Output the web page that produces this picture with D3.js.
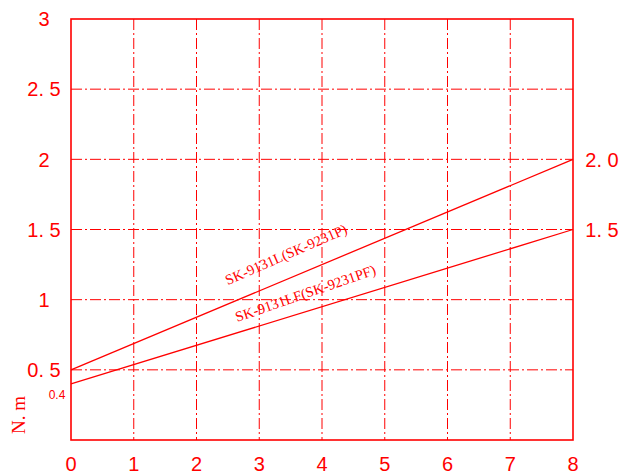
<!DOCTYPE html>
<html><head><meta charset="utf-8">
<script src="https://cdn.jsdelivr.net/npm/d3@7"></script>
<style>body{margin:0;background:#fff}</style>
</head><body>
<svg id="c" width="627" height="475"></svg>
<script>
const xTicks = [0,1,2,3,4,5,6,7,8];
const yTicks = [0.5,1,1.5,2,2.5,3];
const yTickLabels = ["0. 5","1","1. 5","2","2. 5","3"];
const series1 = [{x:0,y:0.5},{x:8,y:2.0}];
const series2 = [{x:0,y:0.4},{x:8,y:1.5}];
const seriesNames = ["SK-9131L(SK-9231P)","SK-9131LF(SK-9231PF)"];
const rightLabels = [{y:2.0,t:"2. 0"},{y:1.5,t:"1. 5"}];

const red = "#ff0000";
const svg = d3.select("#c");
const x = d3.scaleLinear().domain([0,8]).range([71,573]);
const y = d3.scaleLinear().domain([0,3]).range([440,19]);
const tickFont = "'Liberation Sans Narrow','Liberation Sans',Arial,sans-serif";
const serif = "'Liberation Serif','DejaVu Serif',serif";
const dash = "11,3,2,3";

// grid
svg.append("g").selectAll("line").data(xTicks.filter(d=>d>0&&d<8)).join("line")
  .attr("x1",d=>x(d)).attr("x2",d=>x(d)).attr("y1",y(3)).attr("y2",y(0))
  .attr("stroke",red).attr("stroke-width",1).attr("stroke-dasharray",dash);
svg.append("g").selectAll("line").data(yTicks.filter(d=>d<3)).join("line")
  .attr("x1",x(0)).attr("x2",x(8)).attr("y1",d=>y(d)).attr("y2",d=>y(d))
  .attr("stroke",red).attr("stroke-width",1).attr("stroke-dasharray",dash);

// frame
svg.append("rect").attr("x",x(0)).attr("y",y(3)).attr("width",x(8)-x(0)).attr("height",y(0)-y(3))
  .attr("fill","none").attr("stroke",red).attr("stroke-width",1.6);

// lines
const line = d3.line().x(d=>x(d.x)).y(d=>y(d.y));
[series1,series2].forEach(s=>{
  svg.append("path").attr("d",line(s)).attr("fill","none").attr("stroke",red).attr("stroke-width",1.3);
});

// y tick labels
svg.append("g").selectAll("text").data(yTicks).join("text")
  .attr("x",44).attr("y",d=>y(d)).attr("dy","0.36em").attr("text-anchor","middle")
  .attr("font-family",tickFont).attr("font-size",20).attr("fill",red)
  .text((d,i)=>yTickLabels[i]);
// x tick labels
svg.append("g").selectAll("text").data(xTicks).join("text")
  .attr("x",d=>x(d)).attr("y",464).attr("dy","0.36em").attr("text-anchor","middle")
  .attr("font-family",tickFont).attr("font-size",20).attr("fill",red)
  .text(d=>d);
// right labels
svg.append("g").selectAll("text").data(rightLabels).join("text")
  .attr("x",602).attr("y",d=>y(d.y)).attr("dy","0.36em").attr("text-anchor","middle")
  .attr("font-family",tickFont).attr("font-size",20).attr("fill",red)
  .text(d=>d.t);

// 0.4 label
svg.append("text").attr("x",57).attr("y",395).attr("dy","0.35em").attr("text-anchor","middle")
  .attr("font-family",tickFont).attr("font-size",12).attr("fill",red).text("0.4");
// unit
svg.append("text").attr("transform","translate(25,415) rotate(-90)").attr("text-anchor","middle")
  .attr("font-family",serif).attr("font-size",19).attr("fill",red).text("N. m");

// series labels
svg.append("text").attr("transform","translate(288,259) rotate(-23.5)").attr("text-anchor","middle")
  .attr("font-family",serif).attr("font-size",14.5).attr("fill",red).text(seriesNames[0]);
svg.append("text").attr("transform","translate(307,298) rotate(-19)").attr("text-anchor","middle")
  .attr("font-family",serif).attr("font-size",14.5).attr("fill",red).text(seriesNames[1]);
</script>
</body></html>
